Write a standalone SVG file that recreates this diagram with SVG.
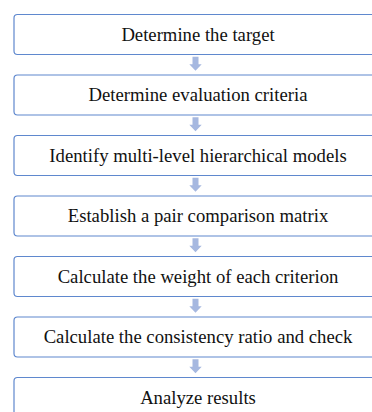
<svg xmlns="http://www.w3.org/2000/svg" width="372" height="412" viewBox="0 0 372 412">
<style>
.box{fill:#ffffff;stroke:#5F88CE;stroke-width:1.2}
.lbl{font-family:"Liberation Serif","Times New Roman",serif;font-size:18.7px;fill:#111111;text-anchor:middle}
.arr{fill:#A6B8E0;stroke:none}
</style>
<defs>
<path id="dn" class="arr" d="M-3,0 H3 V7.5 H6.2 L0,14 L-6.2,7.5 H-3 Z"/>
</defs>
<rect width="372" height="412" fill="#ffffff"/>
<g id="connectors">
<use href="#dn" x="195.5" y="56.8"/>
<use href="#dn" x="195.5" y="117.3"/>
<use href="#dn" x="195.5" y="177.8"/>
<use href="#dn" x="195.5" y="238.3"/>
<use href="#dn" x="195.5" y="298.8"/>
<use href="#dn" x="195.5" y="359.3"/>
</g>
<g id="n1"><rect class="box" x="14" y="14.5" width="363" height="40" rx="3.5"/><text class="lbl" x="198" y="40.7">Determine the target</text></g>
<g id="n2"><rect class="box" x="14" y="75" width="363" height="40" rx="3.5"/><text class="lbl" x="198" y="101.2">Determine evaluation criteria</text></g>
<g id="n3"><rect class="box" x="14" y="135.5" width="363" height="40" rx="3.5"/><text class="lbl" x="198" y="161.7">Identify multi-level hierarchical models</text></g>
<g id="n4"><rect class="box" x="14" y="196" width="363" height="40" rx="3.5"/><text class="lbl" x="198" y="222.2">Establish a pair comparison matrix</text></g>
<g id="n5"><rect class="box" x="14" y="256.5" width="363" height="40" rx="3.5"/><text class="lbl" x="198" y="282.7">Calculate the weight of each criterion</text></g>
<g id="n6"><rect class="box" x="14" y="317" width="363" height="40" rx="3.5"/><text class="lbl" x="198" y="343.2">Calculate the consistency ratio and check</text></g>
<g id="n7"><rect class="box" x="14" y="377.5" width="363" height="40" rx="3.5"/><text class="lbl" x="198" y="403.7">Analyze results</text></g>
</svg>
